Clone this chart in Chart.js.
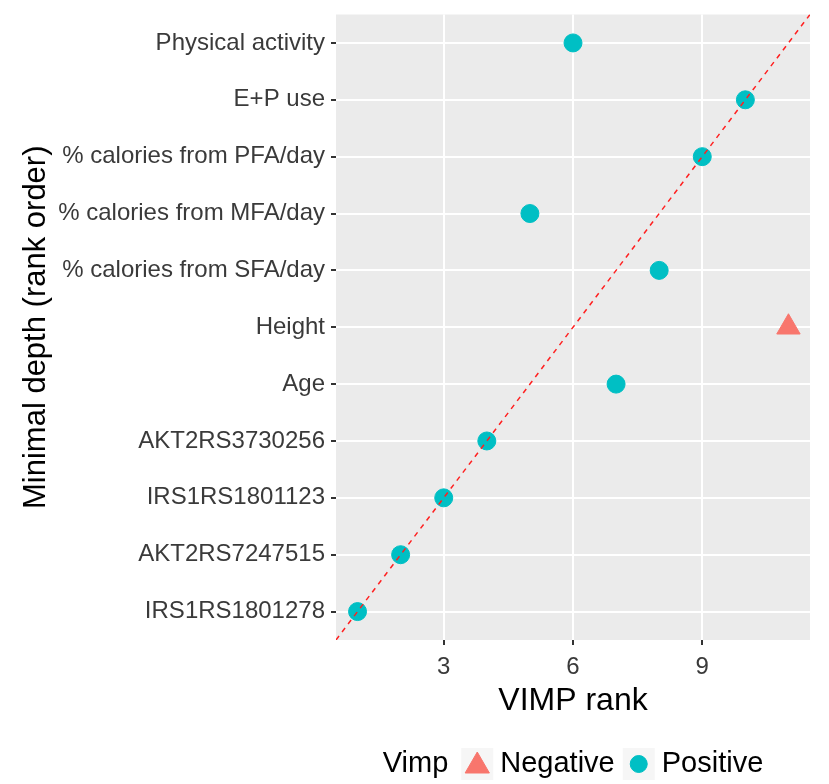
<!DOCTYPE html>
<html>
<head>
<meta charset="utf-8">
<script src="https://cdn.jsdelivr.net/npm/chart.js@4/dist/chart.umd.min.js"></script>
<style>
  body { margin: 0; background: #ffffff; }
  canvas { display: block; }
</style>
</head>
<body>
<canvas id="chart" width="829" height="784"></canvas>
<script>
// Variables in minimal-depth rank order (bottom to top)
const variables = [
  'IRS1RS1801278',
  'AKT2RS7247515',
  'IRS1RS1801123',
  'AKT2RS3730256',
  'Age',
  'Height',
  '% calories from SFA/day',
  '% calories from MFA/day',
  '% calories from PFA/day',
  'E+P use',
  'Physical activity'
]
const depthRank = [1, 2, 3, 4, 5, 6, 7, 8, 9, 10, 11]
const vimpRank = [1, 2, 3, 4, 7, 11, 8, 5, 9, 10, 6]
const vimpSign = ['Positive', 'Positive', 'Positive', 'Positive', 'Positive', 'Negative',
  'Positive', 'Positive', 'Positive', 'Positive', 'Positive']
const xTicks = [3, 6, 9]
const axisRange = [0.5, 11.5]

const FONT = "'Liberation Sans', Arial, sans-serif"
Chart.defaults.font.family = FONT

function pointsFor(sign) {
  const pts = []
  for (let i = 0; i < variables.length; i++) {
    if (vimpSign[i] === sign) pts.push({ x: vimpRank[i], y: depthRank[i] })
  }
  return pts
}

// grey panel behind the grid
const panelBackground = {
  id: 'panelBackground',
  beforeDraw(chart) {
    const { ctx, chartArea: a } = chart
    ctx.save()
    ctx.fillStyle = '#ffffff'
    ctx.fillRect(0, 0, chart.width, chart.height)
    ctx.fillStyle = '#EBEBEB'
    ctx.fillRect(a.left, a.top, a.right - a.left, a.bottom - a.top)
    ctx.restore()
  }
}

// "Vimp" legend laid out in one row under the x axis title
const vimpLegend = {
  id: 'vimpLegend',
  afterDraw(chart) {
    const { ctx, chartArea: a } = chart
    const items = chart.data.datasets.filter(d => d.legendKey)
    ctx.save()
    ctx.font = '29px ' + FONT
    ctx.textBaseline = 'middle'
    const keySize = 32
    const title = 'Vimp'
    let total = ctx.measureText(title).width + 13
    items.forEach((d, i) => {
      total += keySize + 7 + ctx.measureText(d.label).width
      if (i < items.length - 1) total += 8
    })
    let x = (a.left + a.right) / 2 - total / 2
    const y = 764
    ctx.fillStyle = '#000000'
    ctx.fillText(title, x, y)
    x += ctx.measureText(title).width + 13
    items.forEach((d, i) => {
      ctx.fillStyle = '#F6F6F6'
      ctx.fillRect(x, y - keySize / 2, keySize, keySize)
      ctx.fillStyle = d.backgroundColor
      ctx.strokeStyle = d.borderColor
      ctx.lineWidth = 1
      const r = d.pointStyle === 'triangle' ? 14 : 8.5
      const cy = d.pointStyle === 'triangle' ? y + 2 : y
      Chart.helpers.drawPoint(ctx, { pointStyle: d.pointStyle, radius: r, rotation: 0, borderWidth: 1 }, x + keySize / 2, cy)
      x += keySize + 7
      ctx.fillStyle = '#000000'
      ctx.fillText(d.label, x, y)
      x += ctx.measureText(d.label).width + 8
    })
    ctx.restore()
  }
}

const ctx = document.getElementById('chart').getContext('2d')
new Chart(ctx, {
  type: 'scatter',
  data: {
    datasets: [
      {
        label: 'y = x',
        data: [{ x: axisRange[0], y: axisRange[0] }, { x: axisRange[1], y: axisRange[1] }],
        showLine: true,
        borderColor: '#FF2020',
        borderWidth: 1.5,
        borderDash: [5, 5],
        pointRadius: 0,
        order: 0
      },
      {
        label: 'Negative',
        legendKey: true,
        data: pointsFor('Negative'),
        pointStyle: 'triangle',
        pointRadius: 13.5,
        backgroundColor: '#F8766D',
        borderColor: '#F8766D',
        borderWidth: 1,
        order: 1
      },
      {
        label: 'Positive',
        legendKey: true,
        data: pointsFor('Positive'),
        pointStyle: 'circle',
        pointRadius: 9,
        backgroundColor: '#00BFC4',
        borderColor: '#00BFC4',
        borderWidth: 1,
        order: 1
      }
    ]
  },
  options: {
    responsive: false,
    animation: false,
    layout: {
      padding: { top: 13, right: 19, bottom: 64, left: 0 }
    },
    plugins: {
      legend: { display: false },
      tooltip: { enabled: false }
    },
    scales: {
      x: {
        type: 'linear',
        min: axisRange[0],
        max: axisRange[1],
        afterBuildTicks: s => { s.ticks = xTicks.map(v => ({ value: v })) },
        afterFit: s => { s.height = 80; s.paddingLeft = 0; s.paddingRight = 0 },
        border: { display: false },
        grid: {
          color: '#ffffff',
          lineWidth: 2,
          tickColor: '#333333',
          tickWidth: 2,
          tickLength: 5
        },
        ticks: {
          color: '#3a3a3a',
          padding: 8,
          font: { size: 24 }
        },
        title: {
          display: true,
          text: 'VIMP rank',
          color: '#000000',
          font: { size: 32 },
          padding: { top: 0, bottom: 0 }
        }
      },
      y: {
        type: 'linear',
        min: axisRange[0],
        max: axisRange[1],
        afterBuildTicks: s => { s.ticks = depthRank.map(v => ({ value: v })) },
        afterFit: s => { s.width = 336; s.paddingTop = 0; s.paddingBottom = 0 },
        border: { display: false },
        grid: {
          color: '#ffffff',
          lineWidth: 2,
          tickColor: '#333333',
          tickWidth: 2,
          tickLength: 5
        },
        ticks: {
          color: '#3a3a3a',
          padding: 6,
          font: { size: 24 },
          callback: v => variables[depthRank.indexOf(v)]
        },
        title: {
          display: true,
          text: 'Minimal depth (rank order)',
          color: '#000000',
          font: { size: 31 },
          padding: { top: 18, bottom: 0 }
        }
      }
    }
  },
  plugins: [panelBackground, vimpLegend]
})
</script>
</body>
</html>
